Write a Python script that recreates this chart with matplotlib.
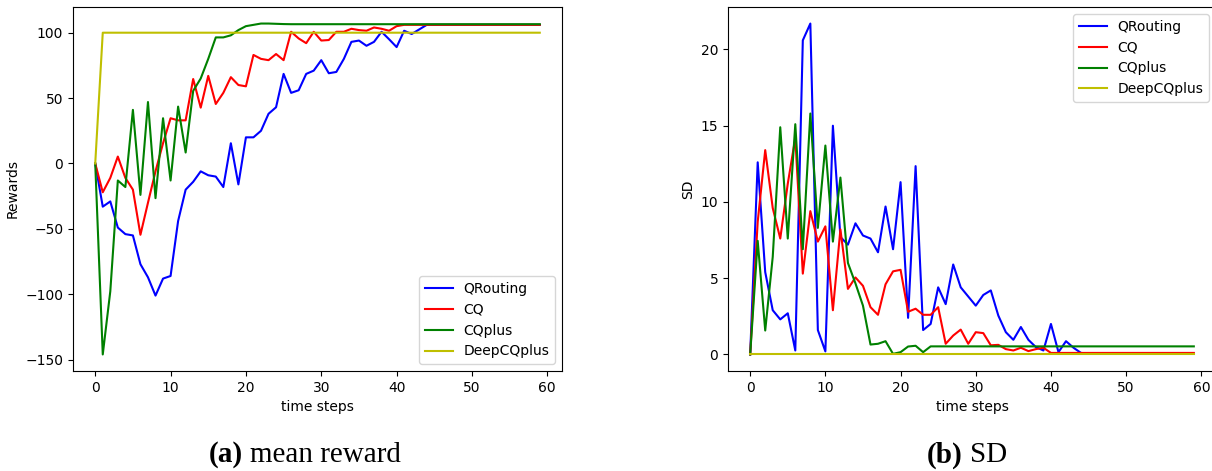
import numpy as np
import matplotlib
matplotlib.use('Agg')
import matplotlib.pyplot as plt

steps = np.arange(60)

# mean reward per time step
reward_qrouting = [0, -33, -29, -49, -54, -55, -77, -87, -101, -88, -86, -44, -20, -14, -6, -9,
                   -10, -18, 15.5, -16, 20, 20, 25, 38, 43, 68.5, 54, 56, 68.5, 71,
                   79, 69, 70, 80, 93, 94, 90, 93, 100.7, 95, 89, 101.5, 99, 102.5, 106, 106,
                   106, 106, 106, 106, 106, 106, 106, 106, 106, 106, 106, 106, 106, 106]
reward_cq = [0, -22, -11, 5.3, -11, -20, -54.5, -30, -6, 15.5, 34.6, 33, 33, 64.6, 42.7, 67,
             45.5, 54, 66, 60, 59, 83, 80, 79, 83.7, 79, 100.7, 95.6, 92, 100.7,
             94, 94.4, 100.7, 100.7, 103, 102, 101.5, 104, 103, 101.5, 105, 106, 106, 106, 106, 106,
             106, 106, 106, 106, 106, 106, 106, 106, 106, 106, 106, 106, 106, 106]
reward_cqplus = [0, -146, -97.7, -13, -18, 41, -24, 47, -26.5, 34.6, -13, 43.5, 8.4, 55.5, 65, 80,
                 96.4, 96.4, 98, 102, 105, 106, 107, 107, 106.8, 106.6, 106.5, 106.5, 106.5, 106.5,
                 106.5, 106.5, 106.5, 106.5, 106.5, 106.5, 106.5, 106.5, 106.5, 106.5, 106.5, 106.5,
                 106.5, 106.5, 106.5, 106.5, 106.5, 106.5, 106.5, 106.5, 106.5, 106.5, 106.5, 106.5,
                 106.5, 106.5, 106.5, 106.5, 106.5, 106.5]
reward_deepcqplus = [0] + [100] * 59

# standard deviation per time step
sd_qrouting = [0, 12.6, 5.4, 2.9, 2.3, 2.7, 0.26, 20.6, 21.7, 1.6, 0.2, 15.0, 7.7, 7.2, 8.6, 7.8,
               7.6, 6.7, 9.7, 6.9, 11.3, 2.4, 12.35, 1.6, 2.0, 4.4, 3.3, 5.9, 4.4, 3.8,
               3.2, 3.9, 4.2, 2.55, 1.46, 0.96, 1.8, 0.96, 0.48, 0.26, 2.0, 0.15, 0.87, 0.44, 0.1,
               0.05, 0.05, 0.05, 0.05, 0.05, 0.05, 0.05, 0.05, 0.05, 0.05, 0.05, 0.05, 0.05, 0.05, 0.05]
sd_cq = [0, 8.7, 13.4, 9.6, 7.6, 11.2, 14.2, 5.3, 9.4, 7.4, 8.4, 2.9, 8.2, 4.3, 5.05, 4.5,
         3.1, 2.6, 4.6, 5.45, 5.55, 2.8, 3.0, 2.6, 2.6, 3.1, 0.7, 1.24, 1.63, 0.7,
         1.46, 1.4, 0.6, 0.63, 0.35, 0.26, 0.44, 0.22, 0.35, 0.44, 0.1, 0.1, 0.1, 0.1, 0.1,
         0.1, 0.1, 0.1, 0.1, 0.1, 0.1, 0.1, 0.1, 0.1, 0.1, 0.1, 0.1, 0.1, 0.1, 0.1]
sd_cqplus = [0, 7.45, 1.57, 6.4, 14.9, 7.6, 15.1, 6.9, 15.8, 8.3, 13.7, 7.4, 11.6, 6.0, 4.66, 3.2,
             0.65, 0.7, 0.87, 0.04, 0.15, 0.52, 0.57, 0.15] + [0.53] * 36
sd_deepcqplus = [0] * 60

labels = ['QRouting', 'CQ', 'CQplus', 'DeepCQplus']
colors = ['b', 'r', 'g', 'y']

fig = plt.figure(figsize=(12.12, 4.71), dpi=100)
ax1 = fig.add_axes([73 / 1212, 1 - 371 / 471, 489 / 1212, 364 / 471])
ax2 = fig.add_axes([728 / 1212, 1 - 371 / 471, 488 / 1212, 364 / 471])

for series, lab, c in zip([reward_qrouting, reward_cq, reward_cqplus, reward_deepcqplus], labels, colors):
    ax1.plot(steps, series, color=c, label=lab)
ax1.set_xlabel('time steps')
ax1.set_ylabel('Rewards')
ax1.legend(loc='lower right')

for series, lab, c in zip([sd_qrouting, sd_cq, sd_cqplus, sd_deepcqplus], labels, colors):
    ax2.plot(steps, series, color=c, label=lab)
ax2.set_xlabel('time steps')
ax2.set_ylabel('SD')
ax2.legend(loc='upper right')

# sub-figure captions
cap_y = 1 - 455 / 471
cap_font = dict(family='Liberation Serif', fontsize=21, va='center')
fig.text(243 / 1212, cap_y, '(a)', fontweight='bold', ha='right', **cap_font)
fig.text(250 / 1212, cap_y, 'mean reward', ha='left', **cap_font)
fig.text(963 / 1212, cap_y, '(b)', fontweight='bold', ha='right', **cap_font)
fig.text(970 / 1212, cap_y, 'SD', ha='left', **cap_font)

fig.savefig('out.png', dpi=100)
